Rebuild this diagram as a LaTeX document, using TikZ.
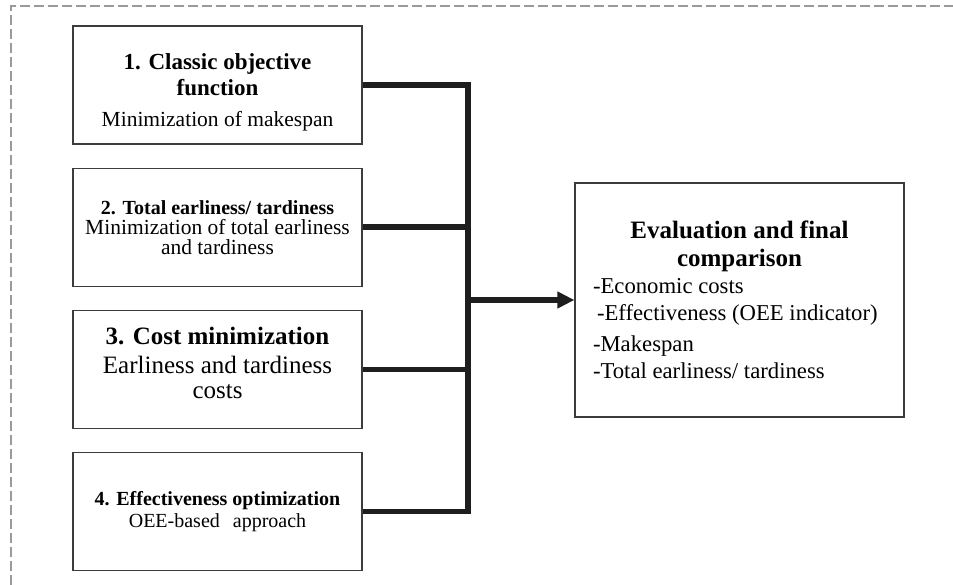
\documentclass[tikz,border=0pt]{standalone}
\usepackage{fontspec}
\setmainfont{Liberation Serif}
\usepackage{xcolor}
\usepackage{tikz}
\usetikzlibrary{positioning, arrows.meta}
\definecolor{framegray}{HTML}{9A9A9A}
\definecolor{boxgray}{HTML}{3C3C3C}
\definecolor{linkblack}{HTML}{1E1E1E}

\begin{document}
\begin{tikzpicture}[x=1pt, y=-1pt,
    method/.style={draw=boxgray, line width=1.2pt, minimum width=289pt,
      minimum height=118pt, inner xsep=7pt, text width=275pt,
      execute at begin node={\centering\spaceskip=0pt\xspaceskip=0pt}},
    evalbox/.style={draw=boxgray, line width=1.2pt, minimum width=329pt,
      minimum height=234pt, inner xsep=18pt, text width=293pt,
      execute at begin node={\raggedright\spaceskip=0pt\xspaceskip=0pt}},
    link/.style={draw=linkblack, line width=5.5pt}]
  \useasboundingbox (0,0) rectangle (953,585);
  \draw[framegray, line width=1.5pt, dash pattern=on 10pt off 4pt] (11,585) |- (953,6);

  \node[method] (classic) at (217.5,85) {%
    \hrule height 0pt\vspace{14pt}
    {\fontsize{23}{26}\selectfont\bfseries 1. Classic objective\\ function\par}
    \vspace{7pt}
    {\fontsize{21.5}{24}\selectfont Minimization of makespan\par}};
  \node[method, below=23pt of classic] (tardy) {%
    {\fontsize{20}{22}\selectfont\bfseries 2. Total earliness/ tardiness\par}
    {\fontsize{21.5}{20}\selectfont Minimization of total earliness\\ and tardiness\par}};
  \node[method, below=23pt of tardy] (cost) {%
    {\fontsize{25}{28}\selectfont\bfseries 3. Cost minimization\par}
    \vspace{4pt}
    {\fontsize{25}{25}\selectfont Earliness and tardiness\\ costs\par}
    \vspace{12pt}\hrule height 0pt};
  \node[method, below=23pt of cost] (effect) {%
    {\fontsize{20}{22}\selectfont\bfseries 4. Effectiveness optimization\par}
    {\fontsize{20}{22}\selectfont OEE-based\hspace{13pt}approach\par}};

  \node[evalbox] (eval) at (739.5,300) {%
    {\centering\fontsize{25}{28}\selectfont\bfseries Evaluation and final\\ comparison\par}
    \fontsize{22.7}{27}\selectfont
    -Economic costs\\
    \hspace*{4pt}-Effectiveness (OEE indicator)\\[4pt]
    -Makespan\\
    -Total earliness/ tardiness\par};

  % bus from the four methods to the evaluation
  \coordinate (bus) at (468,300);
  \draw[link] (classic.east) -| (bus);
  \draw[link] (effect.east) -| (bus);
  \draw[link] (tardy.east) -- (tardy.east -| bus);
  \draw[link] (cost.east) -- (cost.east -| bus);
  \draw[link, -{Triangle[length=17pt, width=16pt]}] (bus) -- (eval.west);
\end{tikzpicture}
\end{document}
